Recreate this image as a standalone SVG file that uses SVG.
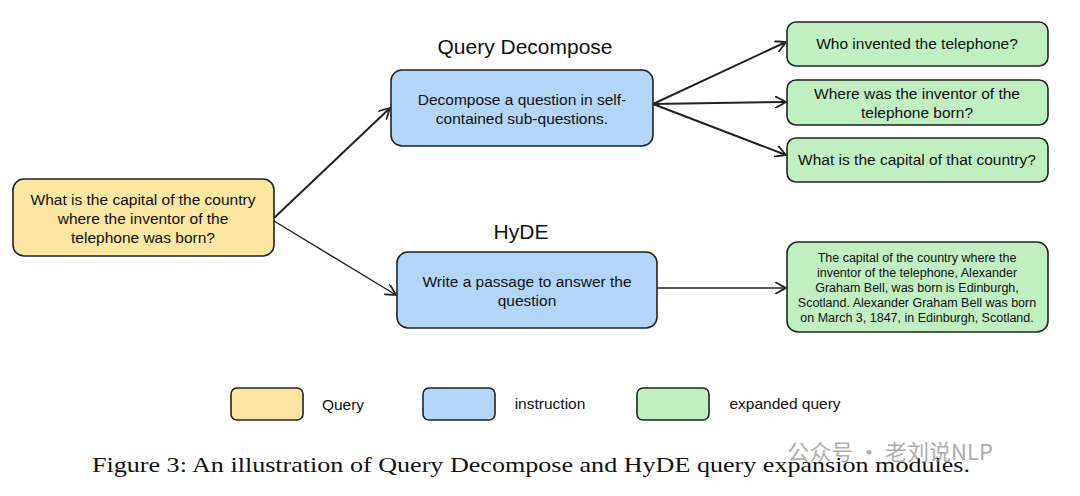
<svg xmlns="http://www.w3.org/2000/svg" width="1080" height="496" viewBox="0 0 1080 496">
<style>
.n{stroke:#222;stroke-width:1.6}
.y{fill:#fbe6a2}.b{fill:#b2d6fa}.g{fill:#c0efc2}
text{font-family:"Helvetica","Liberation Sans",Arial,sans-serif;fill:#111;text-anchor:middle}
.t{font-size:15.5px}.s{font-size:12.5px}.h{font-size:21px}
.c{stroke:#222;stroke-width:2;fill:none;marker-end:url(#a)}
</style>
<defs><marker id="a" viewBox="0 0 12 12" refX="11" refY="6" markerWidth="12" markerHeight="12" markerUnits="userSpaceOnUse" orient="auto"><path d="M0,0 L11,6 L0,12" fill="none" stroke="#222" stroke-width="1.8"/></marker></defs>
<rect width="1080" height="496" fill="#fff"/>
<g id="connectors">
<path class="c" d="M274,218 L390,108"/>
<path class="c" d="M274,221 L396,295" style="stroke-width:1.4"/>
<path class="c" d="M653,104 L786,42"/>
<path class="c" d="M653,104 L786,102"/>
<path class="c" d="M653,104 L786,155"/>
<path class="c" d="M657,288 L786,288" style="stroke-width:1.4"/>
</g>
<g id="query"><rect class="n y" x="13" y="179" width="261" height="77" rx="11"/>
<text class="t" x="143" y="205">What is the capital of the country</text>
<text class="t" x="143" y="224">where the inventor of the</text>
<text class="t" x="143" y="243">telephone was born?</text></g>
<text class="h" x="525" y="54">Query Decompose</text>
<g id="decompose"><rect class="n b" x="391" y="70" width="262" height="76" rx="11"/>
<text class="t" x="522" y="105">Decompose a question in self-</text>
<text class="t" x="522" y="124">contained sub-questions.</text></g>
<text class="h" x="521" y="239">HyDE</text>
<g id="hyde"><rect class="n b" x="397" y="252" width="260" height="76" rx="11"/>
<text class="t" x="527" y="287">Write a passage to answer the</text>
<text class="t" x="527" y="306">question</text></g>
<g id="q1"><rect class="n g" x="787" y="22" width="261" height="44" rx="9"/>
<text class="t" x="917" y="49">Who invented the telephone?</text></g>
<g id="q2"><rect class="n g" x="787" y="80" width="261" height="45" rx="9"/>
<text class="t" x="917" y="99">Where was the inventor of the</text>
<text class="t" x="917" y="118">telephone born?</text></g>
<g id="q3"><rect class="n g" x="787" y="138" width="261" height="44" rx="9"/>
<text class="t" x="917" y="165">What is the capital of that country?</text></g>
<g id="q4"><rect class="n g" x="787" y="242" width="261" height="90" rx="11"/>
<text class="s" x="917" y="262">The capital of the country where the</text>
<text class="s" x="917" y="277">inventor of the telephone, Alexander</text>
<text class="s" x="917" y="292">Graham Bell, was born is Edinburgh,</text>
<text class="s" x="917" y="307">Scotland. Alexander Graham Bell was born</text>
<text class="s" x="917" y="322">on March 3, 1847, in Edinburgh, Scotland.</text></g>
<g id="legend">
<rect class="n y" x="231" y="388" width="72" height="32" rx="6"/>
<text class="t" x="343" y="410">Query</text>
<rect class="n b" x="423" y="388" width="72" height="32" rx="6"/>
<text class="t" x="550" y="409">instruction</text>
<rect class="n g" x="637" y="388" width="72" height="32" rx="6"/>
<text class="t" x="785" y="409">expanded query</text>
</g>
<text x="92" y="472" textLength="878" lengthAdjust="spacingAndGlyphs" style="font-family:'Liberation Serif',serif;font-size:21px;text-anchor:start">Figure 3: An illustration of Query Decompose and HyDE query expansion modules.</text>
<text x="890" y="460" style="font-family:'Noto Sans CJK SC',sans-serif;font-size:22px;fill:#999;opacity:0.8">公众号 · 老刘说NLP</text>
</svg>
